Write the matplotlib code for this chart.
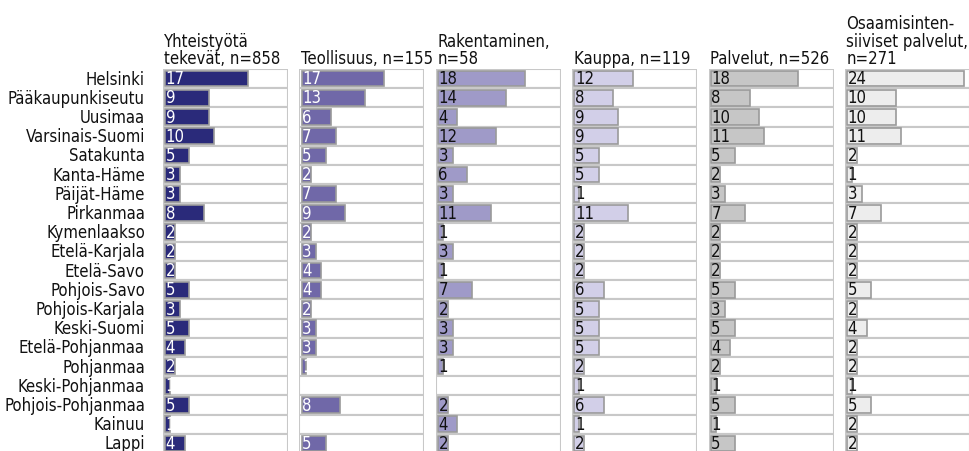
import matplotlib
matplotlib.use("Agg")
import matplotlib.pyplot as plt
from matplotlib import font_manager

REGIONS = [
    "Helsinki", "Pääkaupunkiseutu", "Uusimaa", "Varsinais-Suomi", "Satakunta",
    "Kanta-Häme", "Päijät-Häme", "Pirkanmaa", "Kymenlaakso", "Etelä-Karjala",
    "Etelä-Savo", "Pohjois-Savo", "Pohjois-Karjala", "Keski-Suomi",
    "Etelä-Pohjanmaa", "Pohjanmaa", "Keski-Pohjanmaa", "Pohjois-Pohjanmaa",
    "Kainuu", "Lappi",
]

TITLES = [
    "Yhteistyötä\ntekevät, n=858",
    "Teollisuus, n=155",
    "Rakentaminen,\nn=58",
    "Kauppa, n=119",
    "Palvelut, n=526",
    "Osaamisinten-\nsiiviset palvelut,\nn=271",
]

yhteistyo = [17, 9, 9, 10, 5, 3, 3, 8, 2, 2, 2, 5, 3, 5, 4, 2, 1, 5, 1, 4]
teollisuus = [17, 13, 6, 7, 5, 2, 7, 9, 2, 3, 4, 4, 2, 3, 3, 1, None, 8, None, 5]
rakentaminen = [18, 14, 4, 12, 3, 6, 3, 11, 1, 3, 1, 7, 2, 3, 3, 1, None, 2, 4, 2]
kauppa = [12, 8, 9, 9, 5, 5, 1, 11, 2, 2, 2, 6, 5, 5, 5, 2, 1, 6, 1, 2]
palvelut = [18, 8, 10, 11, 5, 2, 3, 7, 2, 2, 2, 5, 3, 5, 4, 2, 1, 5, 1, 5]
osaaminen = [24, 10, 10, 11, 2, 1, 3, 7, 2, 2, 2, 5, 2, 4, 2, 2, 1, 5, 2, 2]

SERIES = [yhteistyo, teollisuus, rakentaminen, kauppa, palvelut, osaaminen]
BAR_COLORS = ["#2a2a7a", "#7068a8", "#9f9ac8", "#d2cfe8", "#c6c6c6", "#ededed"]
TEXT_COLORS = ["white", "white", "#111111", "#111111", "#111111", "#111111"]

W, H = 970, 452
X0, STEP, PANEL_W = 163, 136.4, 125
TOP, ROW_H = 70, 19.2
XMIN, XMAX = -0.45, 25.3


def pick_font():
    names = {f.name for f in font_manager.fontManager.ttflist}
    if "Liberation Sans Narrow" in names:
        return {"family": "Liberation Sans Narrow"}, 13
    return {"family": "DejaVu Sans", "stretch": "condensed"}, 12


font, fsize = pick_font()

fig = plt.figure(figsize=(W / 100, H / 100), dpi=100)
n = len(REGIONS)
rows = list(range(n))
height = n * ROW_H
bottom = H - TOP - height

for i, (title, values) in enumerate(zip(TITLES, SERIES)):
    left = X0 + i * STEP
    ax = fig.add_axes([left / W, bottom / H, PANEL_W / W, height / H])

    ax.barh([r + 0.5 for r in rows], [XMAX - XMIN] * n, left=XMIN, height=1,
            color="white", edgecolor="#c8c8c8", linewidth=1.5, zorder=1)
    for r, v in zip(rows, values):
        if v is None:
            continue
        ax.barh(r + 0.5, v, left=0, height=0.82, color=BAR_COLORS[i],
                edgecolor="#9a9a9a", linewidth=1.2, zorder=2)
        ax.text(0.1, r + 0.48, str(v), color=TEXT_COLORS[i], fontsize=fsize,
                va="center", ha="left", zorder=3, **font)

    ax.set_xlim(XMIN, XMAX)
    ax.set_ylim(n, 0)
    for s in ax.spines.values():
        s.set_visible(False)
    ax.set_xticks([])
    if i == 0:
        ax.set_yticks([r + 0.4 for r in rows])
        ax.set_yticklabels(REGIONS, fontsize=fsize, color="#111111", **font)
        ax.tick_params(axis="y", length=0, pad=13)
    else:
        ax.set_yticks([])

    ax.annotate(title, xy=(0, 1), xycoords="axes fraction", xytext=(1, 1.5),
                textcoords="offset points", ha="left", va="bottom",
                fontsize=fsize, color="#111111", linespacing=0.95, **font)

fig.savefig("out.png", dpi=100)
